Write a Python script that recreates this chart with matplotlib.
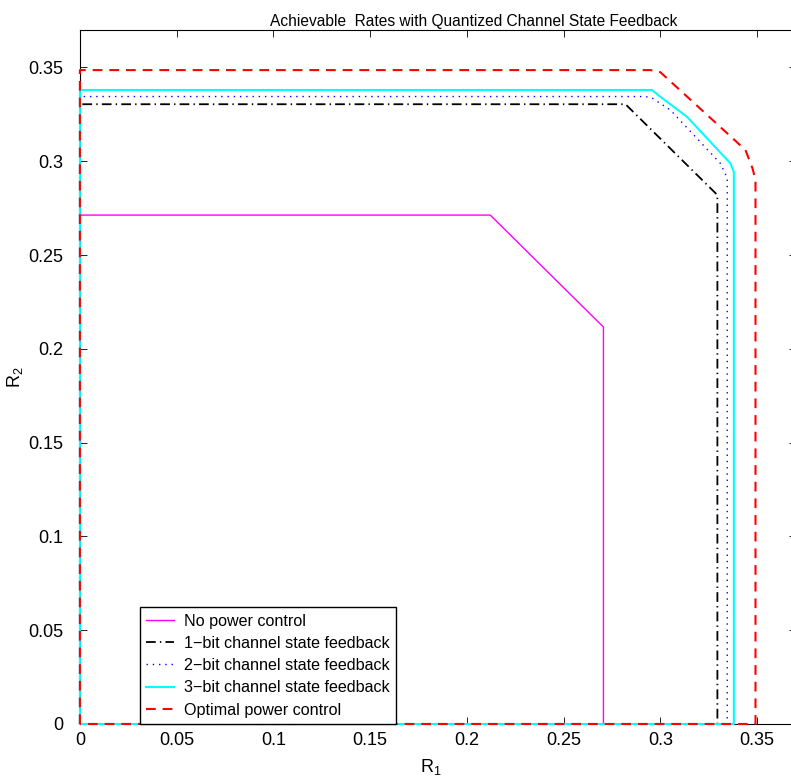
import numpy as np
import matplotlib
matplotlib.use('Agg')
import matplotlib.pyplot as plt

plt.rcParams['font.family'] = ['Liberation Sans', 'DejaVu Sans']
plt.rcParams['mathtext.default'] = 'regular'
plt.rcParams['lines.scale_dashes'] = False

# rate region boundaries (R1, R2)
r1_nopc = [0, 0, 0.2121, 0.2706, 0.2706, 0]
r2_nopc = [0, 0.2713, 0.2713, 0.2116, 0, 0]

r1_1bit = [0, 0, 0.2820, 0.3295, 0.3295, 0]
r2_1bit = [0, 0.3304, 0.3304, 0.2820, 0, 0]

r1_2bit = [0, 0, 0.2923, 0.2959, 0.3052, 0.3311, 0.3346, 0.3346, 0]
r2_2bit = [0, 0.3345, 0.3345, 0.3336, 0.3273, 0.2988, 0.2910, 0, 0]

r1_3bit = [0, 0, 0.2957, 0.3000, 0.3138, 0.3363, 0.3380, 0.3380, 0]
r2_3bit = [0, 0.3380, 0.3380, 0.3344, 0.3237, 0.2988, 0.2943, 0, 0]

r1_opt = [0, 0, 0.2949, 0.3000, 0.3440, 0.3476, 0.3492, 0.3492, 0]
r2_opt = [0, 0.3486, 0.3486, 0.3475, 0.3060, 0.2964, 0.2900, 0, 0]

labels = ['No power control', '1\u2212bit channel state feedback',
          '2\u2212bit channel state feedback', '3\u2212bit channel state feedback',
          'Optimal power control']

ticks = [0, 0.05, 0.1, 0.15, 0.2, 0.25, 0.3, 0.35]
tick_labels = ['0', '0.05', '0.1', '0.15', '0.2', '0.25', '0.3', '0.35']

fig = plt.figure(figsize=(7.91, 7.82), dpi=100)
ax = fig.add_axes([0.101, 0.0742, 0.905, 0.8875])

kw = dict(clip_on=False, zorder=3)
ax.plot(r1_nopc, r2_nopc, color='#ff00ff', lw=1.0, label=labels[0], **kw)
ax.plot(r1_1bit, r2_1bit, color='black', lw=1.3, dashes=(7, 3, 1, 3), label=labels[1], **kw)
ax.plot(r1_2bit, r2_2bit, color='blue', lw=1.0, dashes=(1, 3.5), label=labels[2], **kw)
ax.plot(r1_3bit, r2_3bit, color='cyan', lw=1.5, label=labels[3], **kw)
ax.plot(r1_opt, r2_opt, color='red', lw=1.5, dashes=(7, 5), label=labels[4], **kw)

ax.set_xlim(0, 0.37)
ax.set_ylim(0, 0.37)
ax.set_xticks(ticks)
ax.set_xticklabels(tick_labels)
ax.set_yticks(ticks)
ax.set_yticklabels(tick_labels)
ax.tick_params(direction='in', length=5, width=0.6, labelsize=13, top=True, right=True)
ax.tick_params(axis='x', pad=6)
ax.tick_params(axis='y', pad=12)

ax.set_title('Achievable  Rates with Quantized Channel State Feedback', fontsize=11.2,
             x=0.55, pad=3)
ax.set_xlabel('R$_1$', fontsize=13)
ax.xaxis.set_label_coords(0.49, -0.048)
ax.set_ylabel('R$_2$', fontsize=13)
ax.yaxis.set_label_coords(-0.077, 0.5)

leg = ax.legend(loc='lower left', bbox_to_anchor=(0.084, 0.0), borderaxespad=0,
                fontsize=11.6, fancybox=False, framealpha=1, edgecolor='black',
                handlelength=1.7, labelspacing=0.45, borderpad=0.4, handletextpad=0.6)
leg.get_frame().set_linewidth(1.0)
leg.set_zorder(5)

fig.savefig('out.png', dpi=100)
